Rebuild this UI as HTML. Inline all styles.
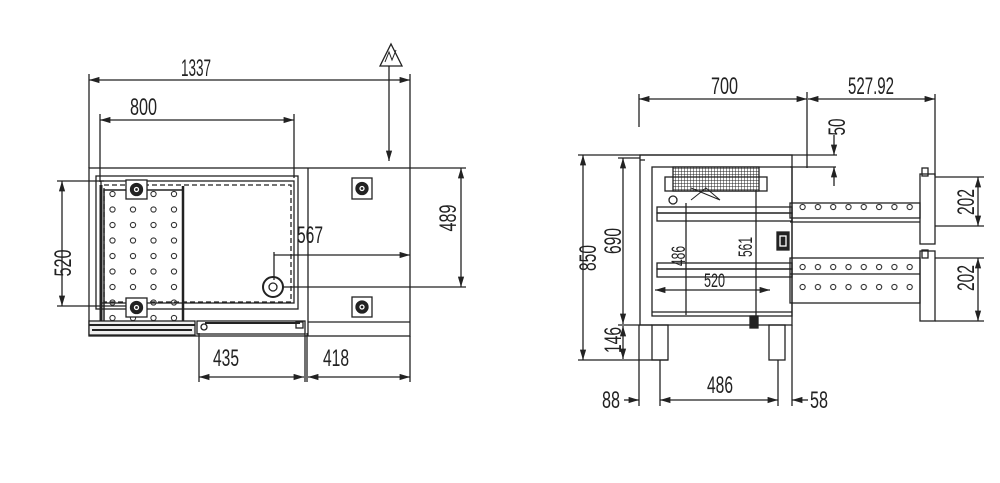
<!DOCTYPE html>
<html><head><meta charset="utf-8"><style>
html,body{margin:0;padding:0;background:#fff;}
svg{display:block}
text{font-family:"Liberation Sans",sans-serif;font-size:24px;fill:#222;}
text.s{font-size:19px;}
</style></head><body>
<svg width="1000" height="483" viewBox="0 0 1000 483" xmlns="http://www.w3.org/2000/svg">
<defs>
<marker id="a" viewBox="0 0 10 6" refX="10" refY="3" markerWidth="8" markerHeight="5" orient="auto-start-reverse"><path d="M0,0L10,3L0,6z" fill="#222"/></marker>
<pattern id="holesL" x="0" y="0" width="20.5" height="15.5" patternUnits="userSpaceOnUse"><circle cx="10" cy="8" r="2.6" fill="none" stroke="#333" stroke-width="1.1"/></pattern>
<pattern id="holesR" x="0" y="0" width="15.3" height="20" patternUnits="userSpaceOnUse"><circle cx="7" cy="7" r="2.6" fill="none" stroke="#333" stroke-width="1.1"/></pattern>
<pattern id="grid" width="3" height="3" patternUnits="userSpaceOnUse"><path d="M0,0H3M0,0V3" stroke="#222" stroke-width="1"/></pattern>
</defs>
<g stroke="#222" stroke-width="1.3" fill="none">
<!-- LEFT VIEW -->
<line x1="89" y1="80" x2="410" y2="80" marker-start="url(#a)" marker-end="url(#a)"/>
<line x1="89" y1="74" x2="89" y2="168"/><line x1="410" y1="74" x2="410" y2="168"/>
<line x1="100" y1="120" x2="294" y2="120" marker-start="url(#a)" marker-end="url(#a)"/>
<line x1="100" y1="114" x2="100" y2="182"/><line x1="294" y1="114" x2="294" y2="178"/>
<rect x="89" y="168" width="321" height="168"/>
<line x1="308" y1="168" x2="308" y2="336"/>
<rect x="96" y="176" width="202" height="133"/>
<rect x="101" y="181" width="193" height="122"/>
<rect x="104" y="185" width="187" height="117" stroke-dasharray="5,3"/>
<rect x="104" y="190" width="79" height="132" stroke-width="1.5"/>
<line x1="101" y1="185" x2="101" y2="322" stroke-width="3"/>
<line x1="183" y1="186" x2="183" y2="322" stroke-width="2.5"/>
<rect x="108" y="190" width="70" height="132" fill="url(#holesL)" stroke="none"/>
<g fill="#fff"><rect x="126" y="180" width="21" height="19"/><rect x="126" y="298" width="21" height="19"/>
<rect x="352" y="178" width="20" height="21"/><rect x="352" y="297" width="20" height="20"/></g>
<g fill="#222"><circle cx="136.5" cy="189.5" r="6"/><circle cx="136.5" cy="307.5" r="6"/><circle cx="362" cy="188.5" r="6"/><circle cx="362" cy="307" r="6"/></g>
<g stroke="#fff"><circle cx="136.5" cy="189.5" r="2"/><circle cx="136.5" cy="307.5" r="2"/><circle cx="362" cy="188.5" r="2"/><circle cx="362" cy="307" r="2"/></g>
<circle cx="273" cy="287" r="10" stroke-width="2"/><circle cx="273" cy="287" r="4"/>
<line x1="274" y1="255" x2="410" y2="255" marker-end="url(#a)"/><line x1="274" y1="252" x2="274" y2="280"/>
<line x1="461" y1="168" x2="461" y2="287" marker-start="url(#a)" marker-end="url(#a)"/>
<line x1="410" y1="168" x2="466" y2="168"/><line x1="283" y1="287" x2="466" y2="287"/>
<line x1="62" y1="181" x2="62" y2="306" marker-start="url(#a)" marker-end="url(#a)"/>
<line x1="57" y1="181" x2="104" y2="181"/><line x1="57" y1="306" x2="126" y2="306"/>
<rect x="89" y="321" width="106" height="14" fill="#eee"/>
<line x1="89" y1="325" x2="195" y2="325" stroke-width="2"/><line x1="92" y1="330" x2="192" y2="330" stroke-width="2"/>
<rect x="197" y="321" width="108" height="13"/><line x1="205" y1="323" x2="300" y2="323" stroke-width="2"/>
<circle cx="204" cy="327" r="3"/><rect x="296" y="322" width="7" height="6"/>
<line x1="308" y1="322" x2="410" y2="322"/>
<line x1="199" y1="333" x2="199" y2="382"/><line x1="305" y1="333" x2="305" y2="382"/><line x1="307" y1="333" x2="307" y2="382"/><line x1="410" y1="336" x2="410" y2="382"/>
<line x1="199" y1="377" x2="304" y2="377" marker-start="url(#a)" marker-end="url(#a)"/>
<line x1="308" y1="377" x2="410" y2="377" marker-start="url(#a)" marker-end="url(#a)"/>
<path d="M380,66L391,44L402,66Z"/><path d="M385,62L389,52L392,60L396,50" stroke-width="1"/>
<line x1="389" y1="66" x2="389" y2="161" marker-end="url(#a)"/>
<!-- RIGHT VIEW -->
<line x1="639" y1="99" x2="807" y2="99" marker-start="url(#a)" marker-end="url(#a)"/>
<line x1="808" y1="99" x2="935" y2="99" marker-start="url(#a)" marker-end="url(#a)"/>
<line x1="639" y1="94" x2="639" y2="127"/><line x1="807" y1="92" x2="807" y2="168"/><line x1="935" y1="94" x2="935" y2="176"/>
<line x1="578" y1="155" x2="837" y2="155"/>
<line x1="790" y1="167" x2="836" y2="167"/>
<line x1="834" y1="135" x2="834" y2="155" marker-end="url(#a)"/><line x1="834" y1="186" x2="834" y2="167" marker-end="url(#a)"/>
<rect x="640" y="155" width="152" height="170"/>
<rect x="652" y="167" width="140" height="149"/>
<line x1="640" y1="160" x2="645" y2="160"/>
<rect x="673" y="167" width="86" height="24" fill="url(#grid)"/>
<rect x="665" y="177" width="102" height="14"/>
<path d="M691,200L706,188L720,200M691,188L720,200" stroke-width="1"/>
<circle cx="673" cy="200" r="4"/>
<rect x="657" y="207" width="135" height="6"/><rect x="657" y="263" width="135" height="6"/>
<rect x="657" y="213" width="135" height="8"/><rect x="657" y="269" width="135" height="8"/>
<line x1="686" y1="203" x2="686" y2="315"/><line x1="756" y1="190" x2="756" y2="316"/>
<line x1="655" y1="290" x2="770" y2="290" marker-start="url(#a)" marker-end="url(#a)"/>
<rect x="777" y="232" width="12" height="18" fill="#222"/><rect x="780" y="236" width="6" height="10" stroke="#fff"/>
<line x1="652" y1="312" x2="792" y2="312"/>
<rect x="652" y="325" width="16" height="35"/><rect x="769" y="325" width="16" height="35"/>
<rect x="750" y="316" width="8" height="12" fill="#222"/>
<rect x="790" y="203" width="130" height="15"/><line x1="790" y1="222" x2="920" y2="222"/>
<rect x="790" y="258" width="130" height="45"/><line x1="790" y1="274" x2="920" y2="274"/>
<rect x="792" y="202" width="128" height="14" fill="url(#holesR)" stroke="none"/>
<rect x="792" y="257" width="128" height="14" fill="url(#holesR)" stroke="none"/>
<rect x="792" y="277" width="128" height="26" fill="url(#holesR)" stroke="none"/>
<rect x="920" y="174" width="15" height="70"/><rect x="920" y="251" width="15" height="70"/>
<rect x="922" y="168" width="6" height="8"/><rect x="922" y="250" width="6" height="8"/>
<line x1="978" y1="177" x2="978" y2="226" marker-start="url(#a)" marker-end="url(#a)"/>
<line x1="978" y1="258" x2="978" y2="321" marker-start="url(#a)" marker-end="url(#a)"/>
<line x1="935" y1="177" x2="984" y2="177"/><line x1="935" y1="226" x2="984" y2="226"/>
<line x1="935" y1="258" x2="984" y2="258"/><line x1="935" y1="321" x2="984" y2="321"/>
<line x1="583" y1="155" x2="583" y2="360" marker-start="url(#a)" marker-end="url(#a)"/>
<line x1="578" y1="360" x2="668" y2="360"/>
<line x1="623" y1="158" x2="623" y2="324" marker-start="url(#a)" marker-end="url(#a)"/>
<line x1="623" y1="326" x2="623" y2="359" marker-start="url(#a)" marker-end="url(#a)"/>
<line x1="618" y1="325" x2="652" y2="325"/><line x1="618" y1="158" x2="640" y2="158"/>
<line x1="639" y1="325" x2="639" y2="406"/><line x1="660" y1="360" x2="660" y2="406"/><line x1="778" y1="360" x2="778" y2="406"/><line x1="792" y1="325" x2="792" y2="406"/>
<line x1="624" y1="400" x2="639" y2="400" marker-end="url(#a)"/>
<line x1="660" y1="400" x2="778" y2="400" marker-start="url(#a)" marker-end="url(#a)"/>
<line x1="808" y1="400" x2="792" y2="400" marker-end="url(#a)"/>
</g>
<g>
<text x="181" y="76" textLength="30" lengthAdjust="spacingAndGlyphs">1337</text>
<text x="130" y="115" textLength="27" lengthAdjust="spacingAndGlyphs">800</text>
<text x="297" y="243" textLength="26" lengthAdjust="spacingAndGlyphs">567</text>
<text x="213" y="366" textLength="26" lengthAdjust="spacingAndGlyphs">435</text>
<text x="323" y="366" textLength="26" lengthAdjust="spacingAndGlyphs">418</text>
<text transform="translate(456,218) rotate(-90)" text-anchor="middle" textLength="27" lengthAdjust="spacingAndGlyphs">489</text>
<text transform="translate(71,263) rotate(-90)" text-anchor="middle" textLength="27" lengthAdjust="spacingAndGlyphs">520</text>
<text x="711" y="94" textLength="27" lengthAdjust="spacingAndGlyphs">700</text>
<text x="848" y="94" textLength="46" lengthAdjust="spacingAndGlyphs">527.92</text>
<text transform="translate(845,127) rotate(-90)" text-anchor="middle" textLength="17" lengthAdjust="spacingAndGlyphs">50</text>
<text transform="translate(596,258) rotate(-90)" text-anchor="middle" textLength="26" lengthAdjust="spacingAndGlyphs">850</text>
<text transform="translate(621,241) rotate(-90)" text-anchor="middle" textLength="26" lengthAdjust="spacingAndGlyphs">690</text>
<text transform="translate(621,340) rotate(-90)" text-anchor="middle" textLength="26" lengthAdjust="spacingAndGlyphs">146</text>
<text class="s" transform="translate(752,247) rotate(-90)" text-anchor="middle" textLength="20" lengthAdjust="spacingAndGlyphs">561</text>
<text class="s" transform="translate(685,256) rotate(-90)" text-anchor="middle" textLength="20" lengthAdjust="spacingAndGlyphs">486</text>
<text class="s" x="704" y="287" textLength="21" lengthAdjust="spacingAndGlyphs">520</text>
<text transform="translate(974,202) rotate(-90)" text-anchor="middle" textLength="26" lengthAdjust="spacingAndGlyphs">202</text>
<text transform="translate(974,278) rotate(-90)" text-anchor="middle" textLength="26" lengthAdjust="spacingAndGlyphs">202</text>
<text x="602" y="408" textLength="18" lengthAdjust="spacingAndGlyphs">88</text>
<text x="707" y="393" textLength="26" lengthAdjust="spacingAndGlyphs">486</text>
<text x="810" y="408" textLength="18" lengthAdjust="spacingAndGlyphs">58</text>
</g>
</svg>
</body></html>
